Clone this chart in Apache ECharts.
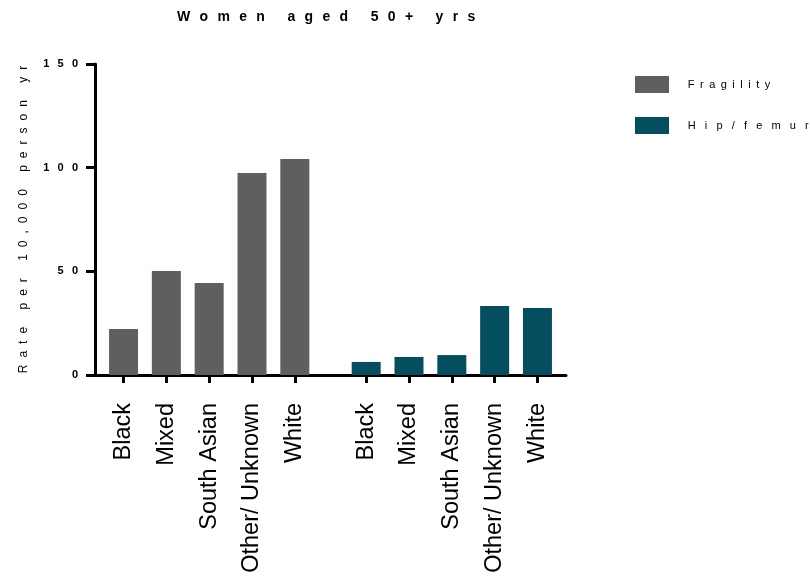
<!DOCTYPE html>
<html>
<head>
<meta charset="utf-8">
<script src="https://cdn.jsdelivr.net/npm/echarts@6/dist/echarts.min.js"></script>
<style>
  html, body { margin: 0; padding: 0; background: #ffffff; }
  #chart { width: 810px; height: 577px; }
</style>
</head>
<body>
<div id="chart"></div>
<script>
// Incidence rates per 10,000 person-years, women aged 50+
const ethnicities = ['Black', 'Mixed', 'South Asian', 'Other/ Unknown', 'White'];
const fragilityRates = [22.2, 50.2, 44.4, 97.4, 104.2];
const hipFemurRates = [6.3, 8.7, 9.6, 33.3, 32.3];
const seriesNames = ['Fragility', 'Hip/femur'];
const yTicks = { min: 0, max: 150, interval: 50 };

const FONT = '"Liberation Sans", Arial, Helvetica, sans-serif';

// Spread characters apart with narrow unicode spaces
function spaced(text, gap) {
  return Array.from(String(text)).join(gap);
}
// Letter gaps used for the legend entries
const legendGap = { 'Fragility': '\u2002', 'Hip/femur': '\u2002\u2004' };

// Category slots: each group has five bars three slots apart,
// with a wider break between the two groups.
const STRIDE = 3, LEAD = 2, GROUP_BREAK = 5, TAIL = 2;
const groups = [
  { prefix: 'F', values: fragilityRates },
  { prefix: 'H', values: hipFemurRates }
];
const slotKeys = [];
const labelOf = {};
let pos = 0;
for (let i = 0; i < LEAD; i++) slotKeys.push('_' + (pos++));
groups.forEach((g, gi) => {
  ethnicities.forEach((name, ci) => {
    const key = g.prefix + ':' + name;
    labelOf[key] = name;
    slotKeys.push(key); pos++;
    const pad = ci < ethnicities.length - 1 ? STRIDE - 1
              : (gi < groups.length - 1 ? GROUP_BREAK - 1 : TAIL);
    for (let k = 0; k < pad; k++) slotKeys.push('_' + (pos++));
  });
});
const isLabelled = (idx, val) => Object.prototype.hasOwnProperty.call(labelOf, val);

const chart = echarts.init(document.getElementById('chart'), null, { renderer: 'canvas' });

chart.setOption({
  animation: false,
  backgroundColor: '#ffffff',
  title: {
    text: spaced('Women aged 50+ yrs', '\u2002\u2006'),
    left: 177,
    top: 10,
    padding: 0,
    textStyle: { fontFamily: FONT, fontSize: 14, fontWeight: 'bold', color: '#000' }
  },
  legend: {
    orient: 'vertical',
    left: 635,
    top: 76,
    padding: 0,
    itemWidth: 34,
    itemHeight: 17,
    itemGap: 24,
    icon: 'rect',
    formatter: name => '\u2003\u2005' + spaced(name, legendGap[name] || '\u2002'),
    textStyle: { fontFamily: FONT, fontSize: 11, color: '#000' },
    data: seriesNames
  },
  grid: { left: 95, right: 244, top: 64, bottom: 202, containLabel: false },
  xAxis: {
    type: 'category',
    data: slotKeys,
    boundaryGap: false,
    axisLine: { lineStyle: { color: '#000', width: 3 } },
    axisTick: { show: true, length: 8, interval: isLabelled, lineStyle: { color: '#000', width: 3 } },
    axisLabel: {
      interval: isLabelled,
      rotate: 90,
      margin: 28,
      formatter: v => labelOf[v] || '',
      fontFamily: FONT,
      fontSize: 23.5,
      color: '#000'
    },
    splitLine: { show: false }
  },
  yAxis: {
    type: 'value',
    min: yTicks.min,
    max: yTicks.max,
    interval: yTicks.interval,
    name: spaced('Rate per 10,000 person yr', '\u2004\u2005'),
    nameLocation: 'middle',
    nameGap: 65,
    nameTextStyle: { fontFamily: FONT, fontSize: 12, color: '#000' },
    axisLine: { show: true, lineStyle: { color: '#000', width: 3 } },
    axisTick: { show: true, length: 9, lineStyle: { color: '#000', width: 3 } },
    axisLabel: {
      margin: 17,
      formatter: v => spaced(v, '\u2002\u2005'),
      fontFamily: FONT,
      fontSize: 11,
      fontWeight: 'bold',
      color: '#000'
    },
    splitLine: { show: false }
  },
  series: [
    {
      name: seriesNames[0],
      type: 'bar',
      barWidth: 29,
      barGap: '-100%',
      itemStyle: { color: '#5f5f5f' },
      data: fragilityRates.map((v, i) => ['F:' + ethnicities[i], v])
    },
    {
      name: seriesNames[1],
      type: 'bar',
      barWidth: 29,
      barGap: '-100%',
      itemStyle: { color: '#044e60' },
      data: hipFemurRates.map((v, i) => ['H:' + ethnicities[i], v])
    }
  ]
});
</script>
</body>
</html>
